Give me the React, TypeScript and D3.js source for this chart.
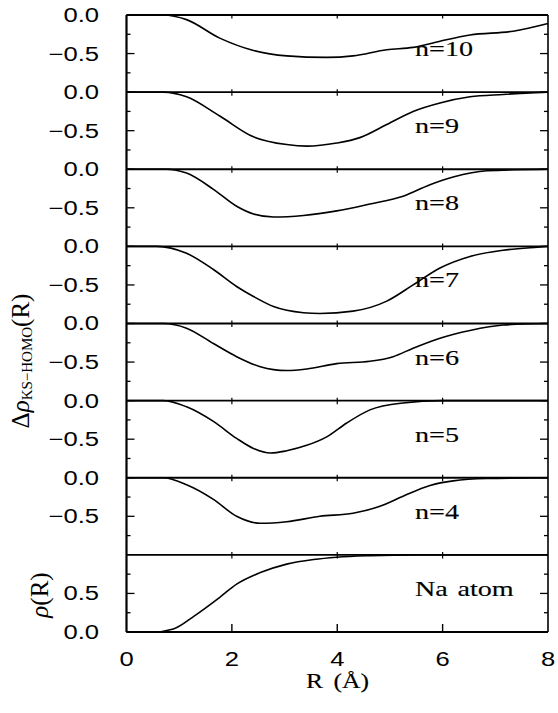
import * as d3 from "d3";
import React from "react";

// R (Å) grid points and Δρ values
const n10: [number, number][] = [
  [0, 0], [0.7, 0], [1.14, -0.06], [1.77, -0.3], [2.41, -0.46], [3.04, -0.53],
  [3.8, -0.55], [4.3, -0.53], [4.94, -0.45], [5.44, -0.42], [5.95, -0.34],
  [6.52, -0.26], [7.34, -0.21], [8, -0.11],
];
const n9: [number, number][] = [
  [0, 0], [0.7, 0], [1.14, -0.06], [1.77, -0.31], [2.41, -0.58], [3.04, -0.68],
  [3.42, -0.7], [3.99, -0.66], [4.43, -0.59], [4.94, -0.42], [5.44, -0.25],
  [5.95, -0.14], [6.52, -0.06], [7.15, -0.03], [8, 0],
];
const n8: [number, number][] = [
  [0, 0], [0.75, 0], [1.14, -0.05], [1.65, -0.26], [2.09, -0.48], [2.41, -0.58],
  [2.79, -0.62], [3.36, -0.6], [3.99, -0.54], [4.62, -0.45], [5.25, -0.35],
  [5.76, -0.2], [6.2, -0.1], [6.84, -0.02], [8, 0],
];
const n7: [number, number][] = [
  [0, 0], [0.57, 0], [1.14, -0.09], [1.65, -0.3], [2.09, -0.52], [2.41, -0.65],
  [2.79, -0.78], [3.36, -0.86], [3.67, -0.87], [4.3, -0.84], [4.94, -0.71],
  [5.44, -0.5], [5.95, -0.28], [6.52, -0.13], [7.15, -0.05], [7.8, -0.01], [8, 0],
];
const n6: [number, number][] = [
  [0, 0], [0.7, 0], [1.14, -0.06], [1.65, -0.26], [2.09, -0.43], [2.54, -0.56],
  [3.04, -0.61], [3.42, -0.59], [3.99, -0.52], [4.62, -0.49], [5.06, -0.43],
  [5.44, -0.32], [5.95, -0.19], [6.52, -0.09], [7.15, -0.02], [8, 0],
];
const n5: [number, number][] = [
  [0, 0], [0.7, 0], [1.14, -0.08], [1.65, -0.27], [2.09, -0.49], [2.41, -0.62],
  [2.73, -0.68], [3.04, -0.65], [3.42, -0.58], [3.8, -0.47], [4.18, -0.29],
  [4.62, -0.12], [5.25, -0.03], [6, 0], [8, 0],
];
const n4: [number, number][] = [
  [0, 0], [0.7, 0], [1.14, -0.09], [1.65, -0.28], [2.09, -0.5], [2.54, -0.59],
  [3.04, -0.57], [3.67, -0.5], [4.3, -0.46], [4.81, -0.37], [5.25, -0.24],
  [5.76, -0.1], [6.2, -0.04], [6.84, -0.01], [8, 0],
];
// ρ(R) of the Na atom
const naAtom: [number, number][] = [
  [0, 0], [0.5, 0], [0.89, 0.04], [1.29, 0.21], [1.77, 0.45], [2.09, 0.62],
  [2.54, 0.77], [3.04, 0.88], [3.55, 0.94], [3.99, 0.97], [4.62, 0.99],
  [5.5, 1], [8, 1],
];

const panelLabels = ["n=10", "n=9", "n=8", "n=7", "n=6", "n=5", "n=4", "Na atom"];
const panelData = [n10, n9, n8, n7, n6, n5, n4, naAtom];

const xTicks = [0, 2, 4, 6, 8];
const deltaTicks = [0, -0.5];
const deltaMinor = [-0.25, -0.75];
const rhoTicks = [0, 0.5];
const rhoMinor = [0.25, 0.75];

const W = 558;
const H = 713;
const left = 126.5;
const right = 548;
const top = 15;
const bottom = 632;
const panelH = (bottom - top) / panelData.length;
const stretch = 1.28;
const sans = "'Liberation Sans', Arial, Helvetica, sans-serif";
const serif = "'Liberation Serif', 'Times New Roman', serif";

export default function App() {
  const x = d3.scaleLinear().domain([0, 8]).range([left, right]);
  const line = d3
    .line<[number, number]>()
    .curve(d3.curveMonotoneX);

  return (
    <svg
      width={W}
      height={H}
      viewBox={`0 0 ${W} ${H}`}
      style={{ position: "absolute", left: 0, top: 0, background: "#fff" }}
    >
      {panelData.map((data, i) => {
        const isRho = i === panelData.length - 1;
        const y0 = top + panelH * i;
        const y = d3
          .scaleLinear()
          .domain(isRho ? [0, 1] : [-1, 0])
          .range([y0 + panelH, y0]);
        const major = isRho ? rhoTicks : deltaTicks;
        const minor = isRho ? rhoMinor : deltaMinor;
        line.x((d) => x(d[0])).y((d) => y(d[1]));
        return (
          <g key={i}>
            {/* panel top line */}
            <line x1={left} x2={right} y1={y0} y2={y0} stroke="#000" strokeWidth={1.8} />
            {/* x ticks on the panel top edge */}
            {xTicks.slice(1, -1).map((t) => (
              <line
                key={t}
                x1={x(t)}
                x2={x(t)}
                y1={i === 0 ? y0 : y0 - 3}
                y2={y0 + 3.5}
                stroke="#000"
                strokeWidth={1.2}
              />
            ))}
            {/* y ticks, both sides */}
            {major.concat(minor).map((t) => {
              const len = major.includes(t) ? 8 : 4;
              return (
                <g key={t}>
                  <line x1={left} x2={left + len} y1={y(t)} y2={y(t)} stroke="#000" strokeWidth={1.3} />
                  <line x1={right} x2={right - len} y1={y(t)} y2={y(t)} stroke="#000" strokeWidth={1.3} />
                </g>
              );
            })}
            {major.map((t) => (
              <text
                key={t}
                transform={`translate(99, ${y(t)}) scale(${stretch}, 1)`}
                textAnchor="end"
                dominantBaseline="central"
                fontFamily={sans}
                fontSize={20}
                fill="#000"
              >
                {d3.format(".1f")(t).replace("-", "\u2212")}
              </text>
            ))}
            <path d={line(data) || ""} fill="none" stroke="#000" strokeWidth={1.6} />
            <text
              transform={`translate(415, ${y0 + 41}) scale(${stretch}, 1)`}
              fontFamily={serif}
              fontSize={22}
              fill="#000"
              stroke="#000"
              strokeWidth={0.15}
              wordSpacing={2}
            >
              {panelLabels[i]}
            </text>
          </g>
        );
      })}

      {/* frame */}
      <line x1={left} x2={left} y1={top} y2={bottom} stroke="#000" strokeWidth={2.2} />
      <line x1={right} x2={right} y1={top} y2={bottom} stroke="#000" strokeWidth={1.6} />
      <line x1={left} x2={right} y1={bottom} y2={bottom} stroke="#000" strokeWidth={2} />
      {xTicks.slice(1, -1).map((t) => (
        <line key={t} x1={x(t)} x2={x(t)} y1={bottom} y2={bottom - 8} stroke="#000" strokeWidth={1.4} />
      ))}

      {/* x tick labels */}
      {xTicks.map((t) => (
        <text
          key={t}
          transform={`translate(${x(t)}, 666) scale(${stretch}, 1)`}
          textAnchor="middle"
          fontFamily={sans}
          fontSize={20}
          fill="#000"
        >
          {t}
        </text>
      ))}
      <text
        transform={`translate(337.5, 688) scale(${stretch}, 1)`}
        textAnchor="middle"
        fontFamily={serif}
        fontSize={20}
        fill="#000"
        stroke="#000"
        strokeWidth={0.15}
        wordSpacing={3}
      >
        R (Å)
      </text>

      {/* y axis titles */}
      <text
        transform="translate(29, 361) rotate(-90)"
        textAnchor="middle"
        fontFamily={serif}
        fontSize={25}
        fill="#000"
      >
        Δ<tspan fontStyle="italic">ρ</tspan>
        <tspan fontSize={15} dy={3}>KS−HOMO</tspan>
        <tspan dy={-3}>(R)</tspan>
      </text>
      <text
        transform="translate(48, 595) rotate(-90)"
        textAnchor="middle"
        fontFamily={serif}
        fontSize={25}
        fill="#000"
      >
        <tspan fontStyle="italic">ρ</tspan>(R)
      </text>
    </svg>
  );
}
